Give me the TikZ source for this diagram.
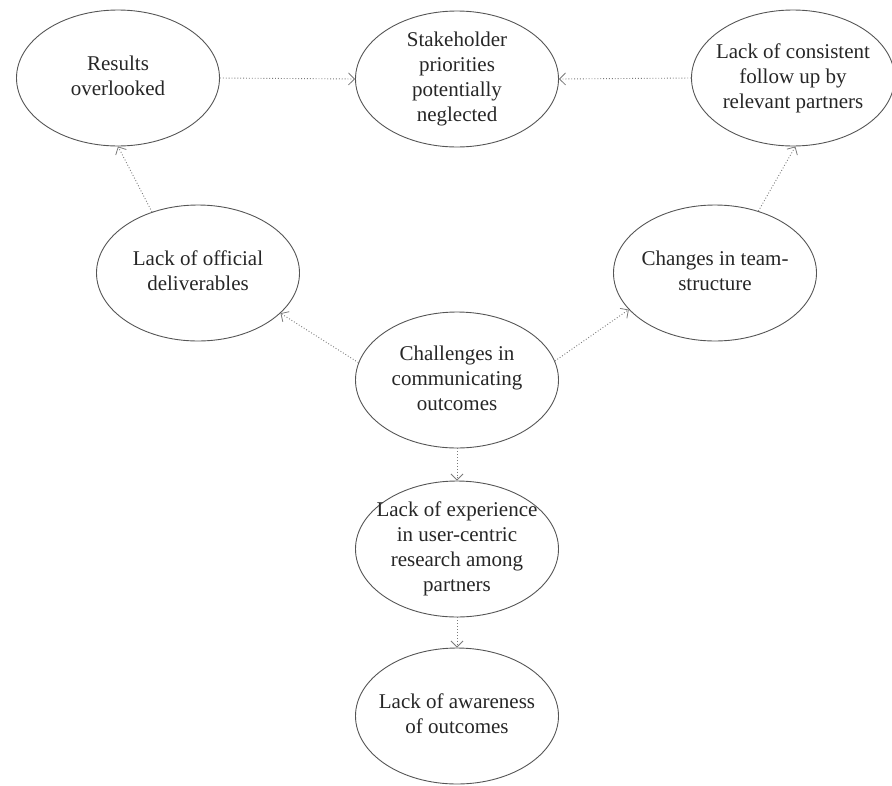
\documentclass[tikz,border=0pt]{standalone}
\usepackage{fontspec}
\setmainfont{Liberation Serif}
\usetikzlibrary{shapes.geometric,arrows.meta}
\definecolor{inkc}{HTML}{262626}
\definecolor{edgec}{HTML}{555555}
\definecolor{arrc}{HTML}{7A7A7A}
\newcommand{\btext}[1]{\raisebox{-5.25pt}[0pt][0pt]{\makebox[0pt]{\begin{tabular}{@{}c@{}}#1\end{tabular}}}}
\tikzset{
  bubble/.style={ellipse, draw=edgec, line width=0.9pt, minimum width=203pt, minimum height=136pt,
    inner sep=0pt, text=inkc, font=\fontsize{21}{25}\selectfont},
  link/.style={draw=arrc, line width=0.9pt, dotted, -{Straight Barb[length=6pt,width=12pt,line width=0.8pt]}}
}
\begin{document}
\begin{tikzpicture}[x=1pt,y=-1pt]
\useasboundingbox (0,0) rectangle (892,785);
\node[bubble] (res) at (118,78) {\btext{Results\\overlooked}};
\node[bubble] (stk) at (457,79) {\btext{Stakeholder\\priorities\\potentially\\neglected}};
\node[bubble] (lcf) at (793,78) {\btext{Lack of consistent\\follow up by\\relevant partners}};
\node[bubble] (lod) at (198,273) {\btext{Lack of official\\deliverables}};
\node[bubble] (cts) at (715,273) {\btext{Changes in team-\\structure}};
\node[bubble] (chl) at (457,380) {\btext{Challenges in\\communicating\\outcomes}};
\node[bubble] (lex) at (457,549) {\btext{Lack of experience\\in user-centric\\research among\\partners}};
\node[bubble] (law) at (457,716) {\btext{Lack of awareness\\of outcomes}};
\draw[link] (res.east) -- (stk.west);
\draw[link] (lcf.west) -- (stk.east);
\draw[link] (lod.127) -- (res.south);
\draw[link] (cts.55) -- (lcf.272);
\draw[link] (chl.170) -- (lod.334);
\draw[link] (chl.11) -- (cts.203);
\draw[link] (chl.south) -- (lex.north);
\draw[link] (lex.south) -- (law.north);
\end{tikzpicture}
\end{document}
